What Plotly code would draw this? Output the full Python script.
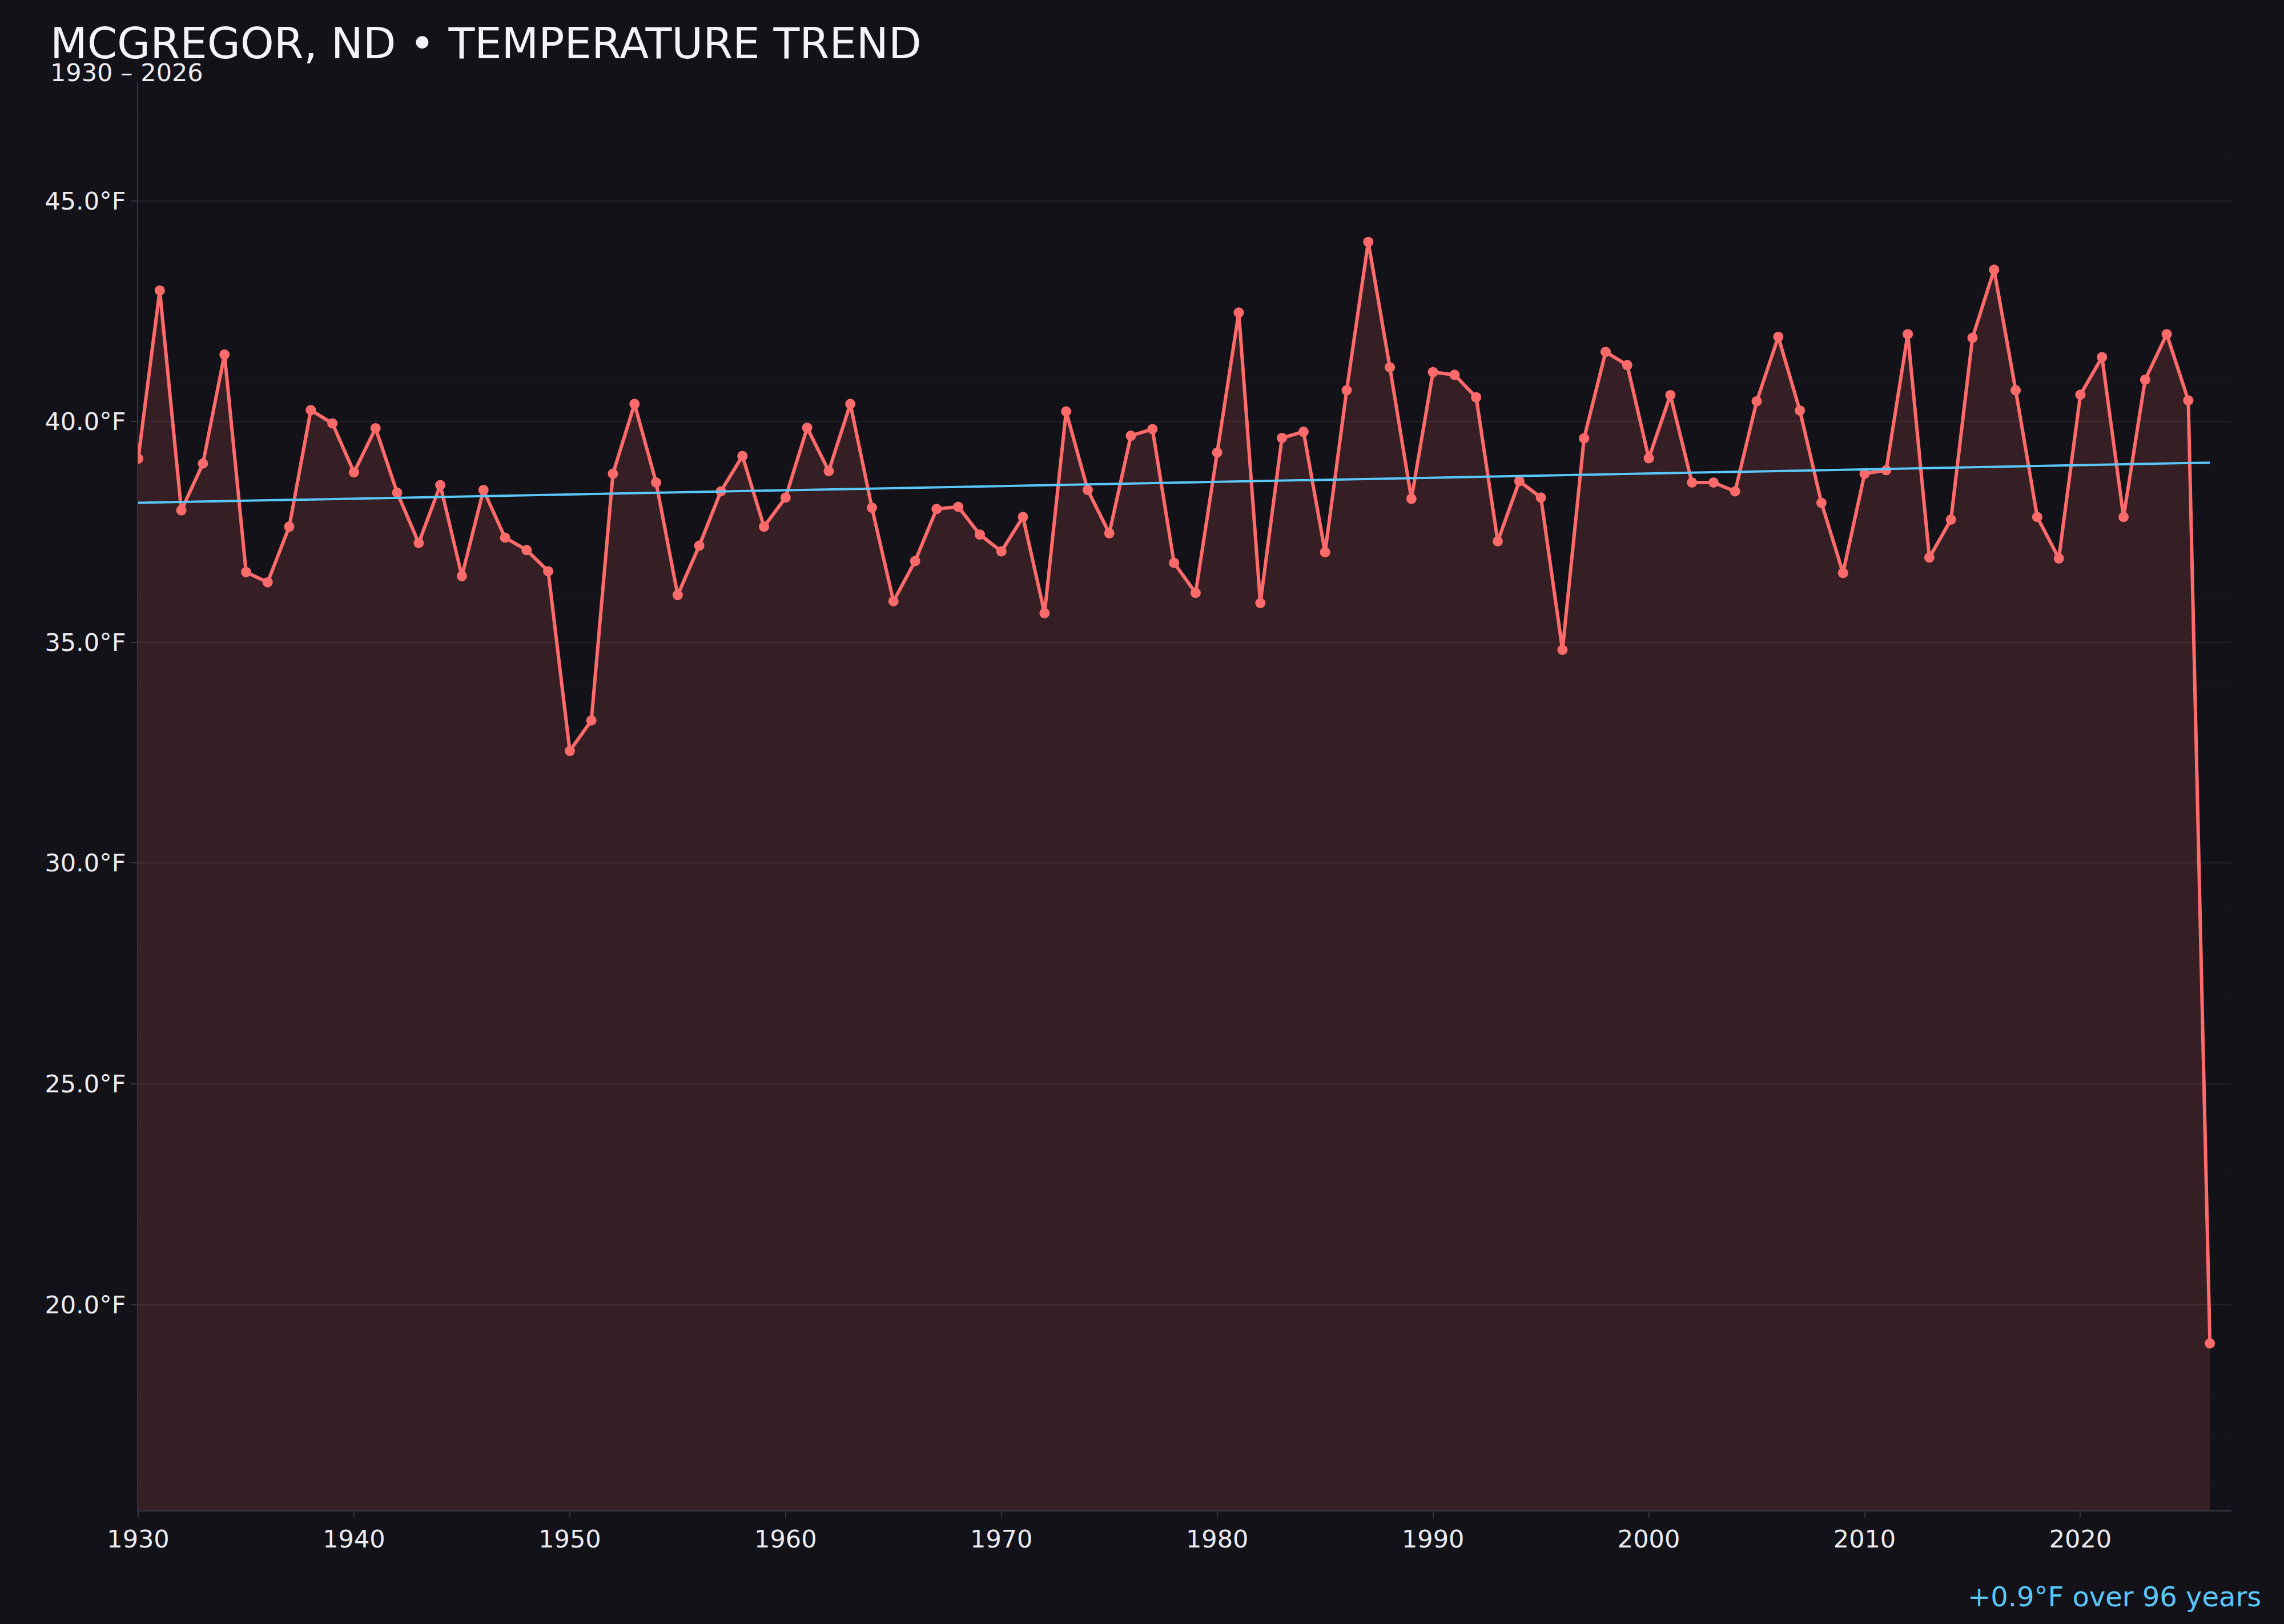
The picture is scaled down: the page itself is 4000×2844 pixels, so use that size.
import plotly.graph_objects as go

# ---- data ----
years = list(range(1930, 2027))
temps = [
    39.16, 42.97, 37.99, 39.05, 41.52, 36.59, 36.36, 37.62, 40.26, 39.96,   # 1930-1939
    38.85, 39.85, 38.39, 37.25, 38.56, 36.50, 38.45, 37.37, 37.09, 36.61,   # 1940-1949
    32.54, 33.23, 38.82, 40.40, 38.62, 36.07, 37.19, 38.42, 39.22, 37.62,   # 1950-1959
    38.28, 39.86, 38.88, 40.40, 38.05, 35.93, 36.84, 38.02, 38.07, 37.44,   # 1960-1969
    37.06, 37.84, 35.66, 40.23, 38.45, 37.47, 39.68, 39.83, 36.80, 36.12,   # 1970-1979
    39.30, 42.47, 35.89, 39.63, 39.77, 37.04, 40.71, 44.07, 41.23, 38.25,   # 1980-1989
    41.12, 41.06, 40.55, 37.29, 38.65, 38.28, 34.83, 39.62, 41.58, 41.28,   # 1990-1999
    39.17, 40.60, 38.62, 38.62, 38.42, 40.46, 41.92, 40.25, 38.16, 36.57,   # 2000-2009
    38.82, 38.90, 41.98, 36.92, 37.78, 41.90, 43.44, 40.71, 37.84, 36.90,   # 2010-2019
    40.61, 41.46, 37.84, 40.95, 41.98, 40.48, 19.12,                        # 2020-2026
]
trend_years = [1930, 2026]
trend_values = [38.16, 39.07]
x_tick_vals = [1930, 1940, 1950, 1960, 1970, 1980, 1990, 2000, 2010, 2020]

title_text = "MCGREGOR, ND • TEMPERATURE TREND"
subtitle_text = "1930 – 2026"
trend_label = "+0.9°F over 96 years"

# ---- style ----
BG = "#131218"
LINE = "#ff6b6b"
TREND = "#5ac8fa"
TEXT = "#ececf1"
AXIS = "rgb(52,52,62)"
FONT = "DejaVu Sans"

fig = go.Figure()
fig.add_trace(go.Scatter(
    x=years, y=temps, mode="lines+markers",
    line=dict(color=LINE, width=6),
    marker=dict(color=LINE, size=18),
    fill="tozeroy", fillcolor="rgba(255,107,107,0.15)",
    showlegend=False, hoverinfo="x+y",
))
fig.add_trace(go.Scatter(
    x=trend_years, y=trend_values, mode="lines",
    line=dict(color=TREND, width=4),
    showlegend=False, hoverinfo="skip",
))

fig.update_layout(
    width=4000, height=2844,
    margin=dict(l=242, r=92, t=143, b=200, pad=0),
    paper_bgcolor=BG, plot_bgcolor=BG,
    font=dict(family=FONT, color=TEXT, size=43),
    xaxis=dict(
        range=[1930, 2027], tickmode="array", tickvals=x_tick_vals,
        showgrid=False, zeroline=False,
        showline=True, linecolor=AXIS, linewidth=3,
        ticks="outside", ticklen=11, tickwidth=1.5, tickcolor=AXIS,
        tickfont=dict(family=FONT, size=43, color=TEXT),
    ),
    yaxis=dict(
        range=[15.35, 47.7], tick0=0, dtick=5,
        tickformat=".1f", ticksuffix="°F",
        showgrid=True, gridcolor="rgba(255,255,255,0.07)", gridwidth=2,
        minor=dict(dtick=1, tick0=0, showgrid=True,
                   gridcolor="rgba(255,255,255,0.014)", gridwidth=2),
        zeroline=False,
        showline=True, linecolor=AXIS, linewidth=2,
        ticks="outside", ticklen=11, tickwidth=1.5, tickcolor=AXIS,
        tickfont=dict(family=FONT, size=43, color=TEXT),
    ),
    annotations=[
        dict(text=title_text, xref="paper", yref="paper",
             x=-0.0423, y=1.0268, xanchor="left", yanchor="middle",
             showarrow=False, borderpad=0,
             font=dict(family=FONT, size=75, color="#f4f4f8")),
        dict(text=subtitle_text, xref="paper", yref="paper",
             x=-0.0423, y=1.0063, xanchor="left", yanchor="middle",
             showarrow=False, borderpad=0,
             font=dict(family=FONT, size=43, color=TEXT)),
        dict(text=trend_label, xref="paper", yref="paper",
             x=1.0147, y=-0.0608, xanchor="right", yanchor="middle",
             showarrow=False, font=dict(family=FONT, size=48, color=TREND)),
    ],
)

fig.write_html("out.html",
               config={"displayModeBar": False},
               post_script="document.body.style.margin='0';document.body.style.overflow='hidden';")
